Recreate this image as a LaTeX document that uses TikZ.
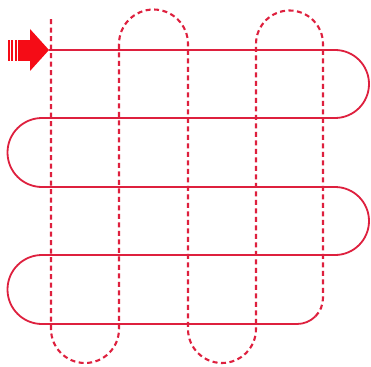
\documentclass[tikz,border=0pt]{standalone}
\definecolor{lineRed}{RGB}{222,32,62}
\definecolor{arrowRed}{RGB}{245,12,22}
\begin{document}
\begin{tikzpicture}[x=1pt,y=1pt,
  solidline/.style={draw=lineRed, line width=1.8pt},
  dashline/.style={draw=lineRed, line width=2.1pt, dash pattern=on 5pt off 3.5pt},
  arrowfill/.style={fill=arrowRed, draw=none}]
\useasboundingbox[fill=white] (0,0) rectangle (371,-366);
% solid serpentine path
\draw[solidline] (49,-50) -- (335,-50) arc(90:-90:34) -- (42,-118) arc(90:270:34.5)
  -- (335,-187) arc(90:-90:34) -- (42,-255) arc(90:270:34.5) -- (297,-324) arc(270:315:26);
% dashed serpentine path
\draw[dashline] (315.38,-316.38) arc(315:360:26) -- (323,-44) arc(0:180:33.5)
  -- (256,-329) arc(360:180:34) -- (188,-44) arc(0:180:34.5)
  -- (119,-329) arc(360:180:34) -- (51,-18);
% start arrow
\fill[arrowfill] (30,-29) -- (49,-50) -- (30,-71) -- cycle;
\fill[arrowfill] (18.3,-40) rectangle (31,-61);
\fill[arrowfill] (8,-40) rectangle (9.7,-61);
\fill[arrowfill] (11.3,-40) rectangle (13.3,-61);
\fill[arrowfill] (14.7,-40) rectangle (16.7,-61);
\end{tikzpicture}
\end{document}
